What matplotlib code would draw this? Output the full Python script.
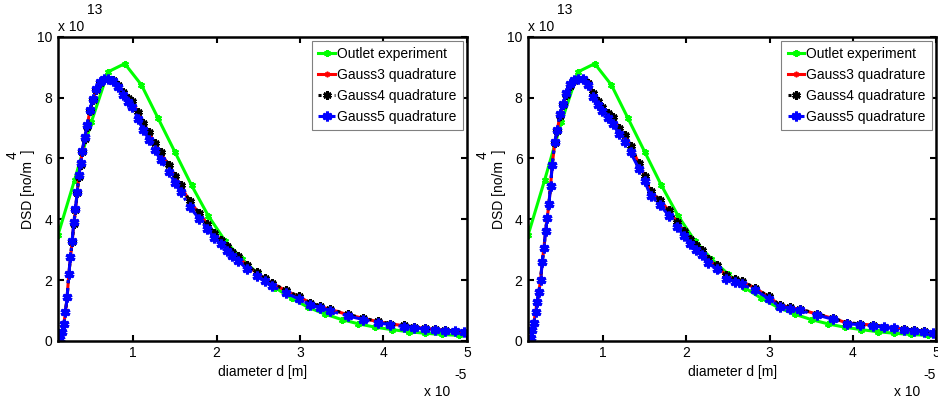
import matplotlib
matplotlib.use("Agg")
import matplotlib.pyplot as plt

plt.rcParams['font.family'] = ['Liberation Sans', 'DejaVu Sans']

# diameter values in units of 1e-5 m, DSD values in units of 1e13
exp_d = [0.1, 0.3, 0.5, 0.7, 0.9, 1.1, 1.3, 1.5, 1.7, 1.9, 2.1, 2.3, 2.5,
         2.7, 2.9, 3.1, 3.3, 3.5, 3.7, 3.9, 4.1, 4.3, 4.5, 4.7, 4.9]
exp_dsd = [3.48, 5.3, 7.2, 8.85, 9.12, 8.42, 7.32, 6.22, 5.12, 4.12, 3.3, 2.7, 2.2,
           1.75, 1.4, 1.1, 0.88, 0.7, 0.56, 0.45, 0.37, 0.3, 0.25, 0.21, 0.18]

quad_d = [0.13, 0.15, 0.17, 0.19, 0.21, 0.23, 0.25, 0.27, 0.29, 0.31, 0.33, 0.35,
          0.37, 0.39, 0.42, 0.45, 0.48, 0.52, 0.56, 0.60, 0.65, 0.70, 0.76, 0.82,
          0.88, 0.94, 0.99, 1.06, 1.12, 1.19, 1.26, 1.33, 1.43, 1.50, 1.57, 1.68,
          1.79, 1.89, 1.97, 2.05, 2.12, 2.19, 2.26, 2.37, 2.48, 2.58, 2.67, 2.83,
          2.99, 3.12, 3.24, 3.36, 3.57, 3.76, 3.93, 4.08, 4.24, 4.37, 4.50, 4.62,
          4.74, 4.86, 4.96]

# left panel
left_g3 = [0.05, 0.3, 0.55, 0.95, 1.45, 2.2, 2.75, 3.25, 3.85, 4.3, 4.85, 5.4,
           5.8, 6.2, 6.65, 7.05, 7.55, 7.93, 8.26, 8.48, 8.6, 8.63, 8.59, 8.42,
           8.2, 8.0, 7.88, 7.5, 7.16, 6.85, 6.5, 6.18, 5.77, 5.4, 5.1, 4.58,
           4.2, 3.85, 3.55, 3.32, 3.1, 2.92, 2.77, 2.47, 2.24, 2.05, 1.89, 1.65,
           1.45, 1.25, 1.13, 1.04, 0.86, 0.74, 0.63, 0.56, 0.5, 0.45, 0.41, 0.38,
           0.35, 0.32, 0.3]
left_g4 = [0.05, 0.3, 0.55, 0.95, 1.45, 2.2, 2.75, 3.25, 3.85, 4.3, 4.85, 5.4,
           5.8, 6.2, 6.65, 7.05, 7.55, 7.93, 8.26, 8.48, 8.6, 8.63, 8.58, 8.41,
           8.2, 8.0, 7.88, 7.52, 7.18, 6.86, 6.52, 6.2, 5.78, 5.42, 5.12, 4.6,
           4.21, 3.86, 3.56, 3.33, 3.11, 2.93, 2.78, 2.48, 2.25, 2.06, 1.9, 1.66,
           1.46, 1.26, 1.14, 1.05, 0.87, 0.75, 0.64, 0.57, 0.51, 0.46, 0.42, 0.38,
           0.35, 0.32, 0.3]
left_g5 = [0.05, 0.3, 0.55, 0.95, 1.45, 2.2, 2.75, 3.3, 3.9, 4.35, 4.9, 5.45,
           5.85, 6.25, 6.7, 7.1, 7.6, 7.97, 8.3, 8.5, 8.62, 8.62, 8.55, 8.35,
           8.1, 7.85, 7.7, 7.3, 6.95, 6.62, 6.28, 5.95, 5.55, 5.2, 4.9, 4.4,
           4.02, 3.68, 3.4, 3.17, 2.96, 2.78, 2.63, 2.35, 2.13, 1.96, 1.8, 1.57,
           1.38, 1.19, 1.08, 0.99, 0.82, 0.7, 0.6, 0.53, 0.47, 0.43, 0.39, 0.36,
           0.33, 0.31, 0.28]

# right panel
right_g3 = [0.08, 0.35, 0.6, 0.96, 1.29, 1.62, 2.0, 2.6, 3.05, 3.61, 4.05, 4.5,
            5.1, 5.8, 6.5, 6.9, 7.4, 7.75, 8.1, 8.4, 8.55, 8.6, 8.63, 8.5,
            8.15, 7.9, 7.69, 7.5, 7.35, 7.0, 6.75, 6.4, 5.85, 5.41, 4.91, 4.64,
            4.29, 3.9, 3.6, 3.34, 3.13, 2.97, 2.68, 2.47, 2.14, 2.03, 1.95, 1.73,
            1.45, 1.18, 1.1, 1.04, 0.88, 0.74, 0.59, 0.55, 0.52, 0.47, 0.43, 0.39,
            0.35, 0.31, 0.27]
right_g4 = [0.08, 0.35, 0.6, 0.96, 1.29, 1.62, 2.0, 2.6, 3.05, 3.61, 4.05, 4.5,
            5.1, 5.8, 6.5, 6.9, 7.4, 7.75, 8.1, 8.4, 8.55, 8.6, 8.63, 8.49,
            8.15, 7.9, 7.69, 7.51, 7.35, 7.01, 6.76, 6.41, 5.86, 5.42, 4.92, 4.65,
            4.3, 3.91, 3.61, 3.35, 3.14, 2.98, 2.69, 2.48, 2.15, 2.04, 1.96, 1.74,
            1.46, 1.19, 1.11, 1.05, 0.89, 0.75, 0.6, 0.56, 0.52, 0.47, 0.43, 0.39,
            0.35, 0.31, 0.27]
right_g5 = [0.08, 0.35, 0.6, 0.96, 1.29, 1.62, 2.0, 2.6, 3.05, 3.61, 4.05, 4.5,
            5.1, 5.8, 6.55, 6.95, 7.45, 7.8, 8.15, 8.45, 8.57, 8.6, 8.6, 8.42,
            8.02, 7.75, 7.55, 7.33, 7.15, 6.8, 6.55, 6.2, 5.67, 5.25, 4.78, 4.48,
            4.12, 3.74, 3.45, 3.2, 3.0, 2.84, 2.56, 2.36, 2.04, 1.95, 1.86, 1.66,
            1.39, 1.13, 1.06, 1.0, 0.85, 0.71, 0.57, 0.53, 0.49, 0.45, 0.41, 0.37,
            0.33, 0.3, 0.26]

labels = ['Outlet experiment', 'Gauss3 quadrature', 'Gauss4 quadrature', 'Gauss5 quadrature']
asterisk = (6, 2, 0)


def draw_panel(ax, g3, g4, g5):
    ax.plot(exp_d, exp_dsd, color=(0, 1, 0), lw=2.2, marker=asterisk, ms=5, mew=1.5,
            label=labels[0])
    ax.plot(quad_d, g3, color='red', lw=2.2, marker=asterisk, ms=4, mew=1.2,
            label=labels[1])
    ax.plot(quad_d, g4, color='black', lw=2.2, ls=':', marker=asterisk, ms=6, mew=2,
            label=labels[2])
    ax.plot(quad_d, g5, color='blue', lw=2.2, ls='-.', marker=asterisk, ms=7, mew=2.2,
            label=labels[3])
    ax.set_xlim(0.1, 5)
    ax.set_ylim(0, 10)
    ax.set_xticks([1, 2, 3, 4, 5])
    ax.set_yticks([0, 2, 4, 6, 8, 10])
    ax.tick_params(direction='in', top=True, right=True, labelsize=10, length=4,
                   width=1.5, pad=4)
    for s in ax.spines.values():
        s.set_linewidth(1.8)
    ax.set_xlabel('diameter d [m]', fontsize=10, labelpad=3)
    ax.set_ylabel('DSD [no/m  ]', fontsize=10)
    ax.yaxis.set_label_coords(-0.055, 0.5)
    # superscript of the y label and exponent texts like MATLAB draws them
    ax.text(-0.112, 0.61, '4', transform=ax.transAxes, fontsize=10, rotation=90,
            ha='center', va='center')
    ax.text(0.0, 1.01, 'x 10', transform=ax.transAxes, fontsize=10, ha='left', va='bottom')
    ax.text(0.07, 1.065, '13', transform=ax.transAxes, fontsize=10, ha='left', va='bottom')
    ax.text(1.0, -0.089, '-5', transform=ax.transAxes, fontsize=10, ha='right', va='top')
    ax.text(0.96, -0.145, 'x 10', transform=ax.transAxes, fontsize=10, ha='right', va='top')
    leg = ax.legend(loc='upper right', fontsize=10, fancybox=False, framealpha=1,
                    handlelength=1.2, handletextpad=0.15, borderpad=0.45,
                    labelspacing=0.5, borderaxespad=0.3)
    leg.get_frame().set_edgecolor('#808080')
    leg.get_frame().set_linewidth(0.8)


fig = plt.figure(figsize=(9.38, 4.01), dpi=100)
ax1 = fig.add_axes([0.0618, 0.150, 0.436, 0.758])
ax2 = fig.add_axes([0.5630, 0.150, 0.435, 0.758])
draw_panel(ax1, left_g3, left_g4, left_g5)
draw_panel(ax2, right_g3, right_g4, right_g5)

fig.savefig('out.png', dpi=100)
